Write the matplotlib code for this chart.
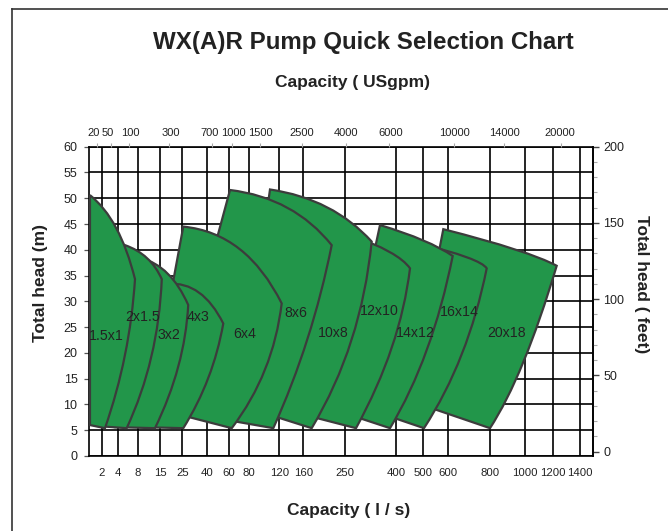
import numpy as np
import matplotlib
matplotlib.use('Agg')
import matplotlib.pyplot as plt
from matplotlib.path import Path
from matplotlib.patches import PathPatch
from matplotlib.lines import Line2D
from matplotlib.transforms import ScaledTranslation
from matplotlib import font_manager

names = {f.name for f in font_manager.fontManager.ttflist}
NARROW = 'Liberation Sans Narrow' in names
SANS = ['Liberation Sans', 'DejaVu Sans']
NAR = ['Liberation Sans Narrow', 'Liberation Sans', 'DejaVu Sans'] if NARROW else SANS
plt.rcParams['font.family'] = SANS

# ---------------- data ----------------
flow_ticks = [2, 4, 8, 15, 25, 40, 60, 80, 120, 160, 250, 400, 500, 600, 800, 1000, 1200, 1400]
gpm_ticks = [20, 50, 100, 300, 700, 1000, 1500, 2500, 4000, 6000, 10000, 14000, 20000]
head_m_ticks = list(range(0, 61, 5))
head_ft_ticks = [0, 50, 100, 150, 200]
LPS_TO_GPM = 15.85

pumps = ['1.5x1', '2x1.5', '3x2', '4x3', '6x4', '8x6', '10x8', '12x10', '14x12', '16x14', '20x18']
# outline of each pump range (flow l/s, head m)
tl_q = [0.11, 5.44, 8.95, 18.6, 25.6, 61.0, 107.6, 264.7, 352.9, 480.6, 581.0]
tl_h = [50.6, 40.9, 38.4, 33.4, 44.5, 51.6, 51.7, 42.9, 44.8, 41.3, 44.0]
top_q = [4.45, 12.0, 19.9, 37.1, 77.2, 144.2, 224.1, 409.5, 525.9, 756.7, 1029.7]
top_h = [46.0, 39.2, 36.9, 33.9, 43.3, 50.1, 49.9, 39.6, 41.9, 38.3, 39.8]
knee_q = [7.41, 15.8, 28.6, 54.8, 124.0, 221.3, 328.5, 451.3, 622.4, 784.3, 1227.4]
knee_h = [34.3, 34.3, 29.3, 25.7, 29.6, 40.9, 41.6, 36.4, 38.8, 36.4, 36.9]
side_q = [6.42, 14.5, 26.6, 45.7, 112.0, 179.6, 297.9, 416.5, 536.8, 696.7, 992.5]
side_h = [19.3, 18.6, 17.3, 14.7, 16.0, 22.2, 21.4, 21.1, 19.1, 18.6, 15.3]
br_q = [2.41, 5.77, 13.4, 25.6, 62.7, 112.0, 178.1, 282.4, 382.4, 502.8, 800.0]
br_h = [5.4, 5.4, 5.4, 5.4, 5.4, 5.4, 5.4, 5.4, 5.4, 5.4, 5.4]
bl_q = [0.11, 1.40, 3.66, 8.64, 11.8, 19.75, 70.8, 154.5, 239.2, 352.9, 451.3]
bl_h = [6.0, 5.8, 5.6, 5.6, 9.5, 8.9, 9.8, 8.2, 8.6, 8.3, 10.7]
label_q = [2.63, 9.5, 18.9, 34.4, 75.3, 148.3, 224.7, 350.6, 471.4, 654.8, 898]
label_h = [23.3, 27.0, 23.4, 27.0, 23.7, 27.7, 23.8, 28.1, 23.8, 28.0, 23.8]

# irregular capacity axis: relative position of each grid value along the axis
scale_q = [0, 2, 4, 8, 15, 25, 40, 60, 80, 120, 160, 250, 400, 500, 600, 800, 1000, 1200, 1400, 1500]
scale_pos = np.array([0, 12.4, 28.4, 48.7, 70.7, 93, 117.7, 139.7, 160, 190, 214, 255.7,
                      306.7, 334, 358.7, 400.7, 435.4, 463.7, 490.7, 504]) / 504.0
# small horizontal nudges (pixels) of the top labels, as printed
top_label_nudge = [-3.0, -3.5, 1.0, 2.0, -1.8, 1.6, 0, 0, 0, 2.0, 0, 0, -1.5]


def fwd(q):
    return np.interp(q, scale_q, scale_pos)


def inv(p):
    return np.interp(p, scale_pos, scale_q)


GREEN = '#22964a'
EDGE = '#3c3c3c'

fig = plt.figure(figsize=(6.68, 5.31), dpi=100)
ax = fig.add_axes([89.3 / 668, 75 / 531, 504 / 668, 309.3 / 531])
ax.set_xscale('function', functions=(fwd, inv))
ax.set_xlim(0, 1500)
ax.set_ylim(0, 60)
ax.set_axisbelow(True)

ax.set_xticks(flow_ticks)
ax.set_xticklabels([str(v) for v in flow_ticks], fontsize=9.2 if NARROW else 8.2, family=NAR)
ax.set_yticks(head_m_ticks)
ax.set_yticklabels([str(v) for v in head_m_ticks], fontsize=9, color='#222222')
ax.tick_params(axis='x', length=0, pad=9, colors='#222222')
ax.tick_params(axis='y', length=3.5, width=0.9, color='#555555', pad=5)
ax.grid(True, color='black', linewidth=1.2)
for s in ax.spines.values():
    s.set_color('black')
    s.set_linewidth(1.2)

codes = [Path.MOVETO, Path.CURVE3, Path.CURVE3, Path.CURVE3, Path.CURVE3, Path.LINETO, Path.CLOSEPOLY]
n = len(pumps)
for i in range(n):
    verts = [(tl_q[i], tl_h[i]), (top_q[i], top_h[i]), (knee_q[i], knee_h[i]),
             (side_q[i], side_h[i]), (br_q[i], br_h[i]), (bl_q[i], bl_h[i]),
             (tl_q[i], tl_h[i])]
    patch = PathPatch(Path(verts, codes), facecolor=GREEN, edgecolor=EDGE,
                      linewidth=1.6, joinstyle='miter', zorder=3 + (n - i) * 0.1)
    ax.add_patch(patch)
    ax.text(label_q[i], label_h[i], pumps[i], ha='center', va='center',
            fontsize=11.5 if NARROW else 10.2, family=NAR, color='#222222', zorder=10)

# top axis: US gpm
ax_top = ax.twiny()
ax_top.set_xscale('function', functions=(fwd, inv))
ax_top.set_xlim(0, 1500)
ax_top.set_xticks([g / LPS_TO_GPM for g in gpm_ticks])
ax_top.set_xticklabels([str(g) for g in gpm_ticks], fontsize=9.0 if NARROW else 8.0, family=NAR)
ax_top.tick_params(axis='x', length=3, width=0.8, color='#aaaaaa', pad=3, colors='#222222')
ax_top.tick_params(axis='x', color='#aaaaaa')
for s in ax_top.spines.values():
    s.set_visible(False)
for tick, dx in zip(ax_top.xaxis.get_major_ticks(), top_label_nudge):
    lbl = tick.label2
    lbl.set_transform(lbl.get_transform() + ScaledTranslation(dx / 100.0, 0, fig.dpi_scale_trans))

# right axis: feet
ax_r = ax.twinx()
ax_r.set_ylim(-2.8, 200)
ax_r.set_yticks(head_ft_ticks)
ax_r.set_yticklabels([str(v) for v in head_ft_ticks], fontsize=9, color='#222222')
ax_r.set_yticks([v for v in range(10, 200, 10) if v % 50], minor=True)
ax_r.tick_params(axis='y', which='major', length=4, width=1.0, color='#444444', pad=3)
ax_r.tick_params(axis='y', which='minor', length=3, width=0.8, color='#aaaaaa')
for k, s in ax_r.spines.items():
    s.set_visible(k == 'right')
ax_r.spines['right'].set_linewidth(1.2)

# texts
fig.text(363.5 / 668, 1 - 43 / 531, 'WX(A)R Pump Quick Selection Chart', ha='center', va='center',
         fontsize=17.4, fontweight='bold', color='#222222')
fig.text(352 / 668, 1 - 82 / 531, 'Capacity ( USgpm)', ha='center', va='center',
         fontsize=12.5, fontweight='bold', color='#222222')
fig.text(349 / 668, 1 - 511 / 531, 'Capacity ( l / s)', ha='center', va='center',
         fontsize=12.5, fontweight='bold', color='#222222')
fig.text(40 / 668, 1 - 283 / 531, 'Total head (m)', ha='center', va='center', rotation=90,
         fontsize=12.5, fontweight='bold', color='#222222')
fig.text(641.7 / 668, 1 - 284 / 531, 'Total head ( feet)', ha='center', va='center', rotation=270,
         fontsize=12.5, fontweight='bold', color='#222222')

# outer frame (left and top edges)
fig.add_artist(Line2D([11.7 / 668, 11.7 / 668], [0, 1 - 9.3 / 531], color='#333333', lw=1.2))
fig.add_artist(Line2D([11.7 / 668, 1], [1 - 9.3 / 531, 1 - 9.3 / 531], color='#333333', lw=1.2))

fig.savefig('out.png', dpi=100)
